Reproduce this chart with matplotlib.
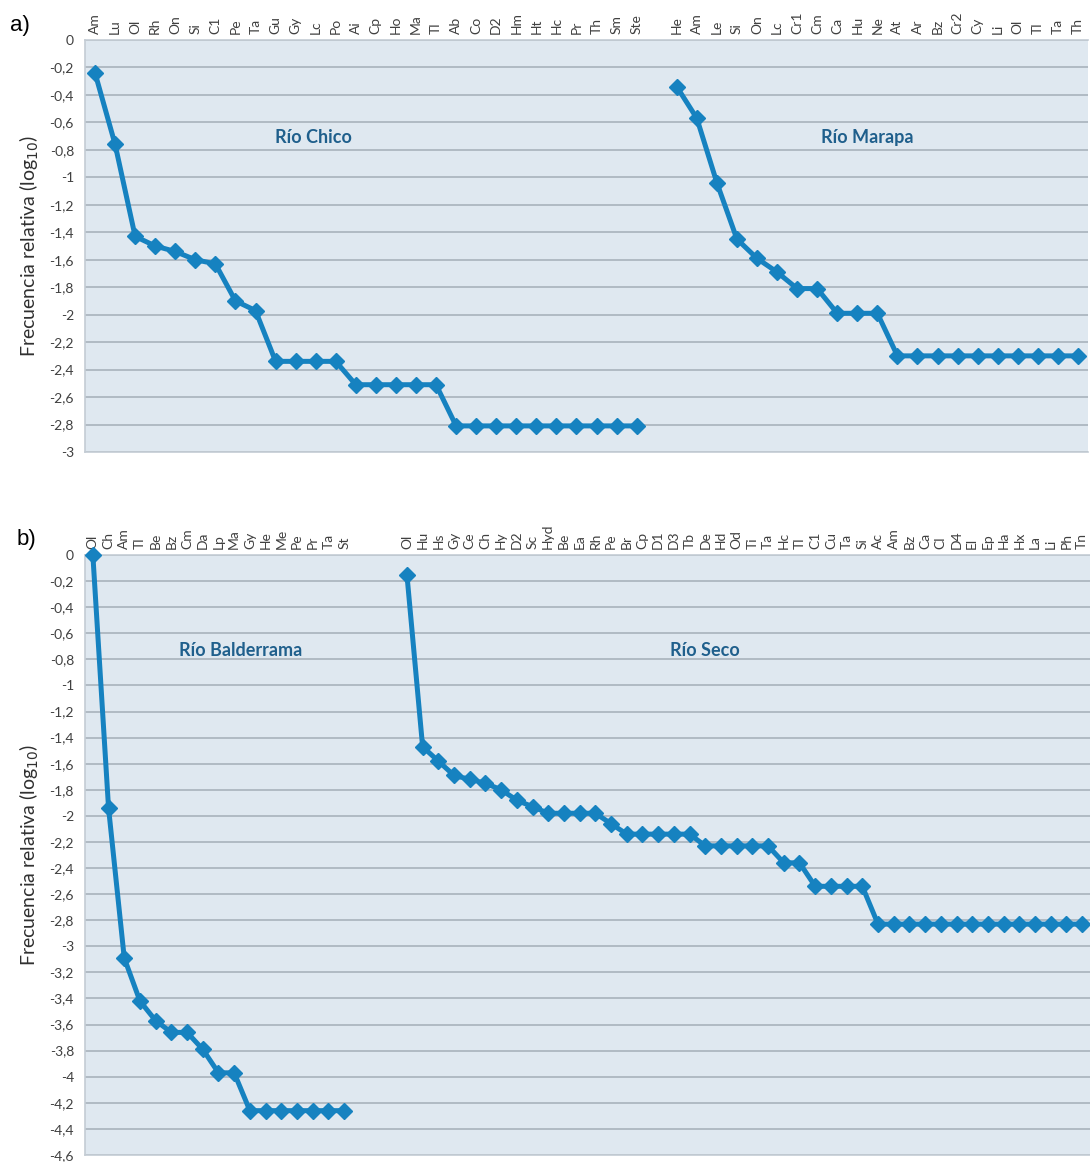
import numpy as np
import matplotlib
matplotlib.use("Agg")
import matplotlib.pyplot as plt
from matplotlib.ticker import FuncFormatter, MultipleLocator

plt.rcParams['font.family'] = ['Lato', 'DejaVu Sans']

# ---- data: log10 relative frequency per taxon, ranked ----
chico_labels = ["Am", "Lu", "Ol", "Rh", "On", "Si", "C1", "Pe", "Ta", "Gu", "Gy", "Lc", "Po",
                "Ai", "Cp", "Ho", "Ma", "Tl", "Ab", "Co", "D2", "Hm", "Ht", "Hc", "Pr", "Th",
                "Sm", "Ste"]
chico_values = [-0.24, -0.76, -1.43, -1.50, -1.54, -1.60, -1.63, -1.90, -1.97, -2.34, -2.34,
                -2.34, -2.34, -2.51, -2.51, -2.51, -2.51, -2.51, -2.81, -2.81, -2.81, -2.81,
                -2.81, -2.81, -2.81, -2.81, -2.81, -2.81]

marapa_labels = ["He", "Am", "Le", "Si", "On", "Lc", "Cr1", "Cm", "Ca", "Hu", "Ne", "At", "Ar",
                 "Bz", "Cr2", "Cy", "Li", "Ol", "Tl", "Ta", "Th"]
marapa_values = [-0.34, -0.57, -1.04, -1.45, -1.59, -1.69, -1.81, -1.81, -1.99, -1.99, -1.99,
                 -2.30, -2.30, -2.30, -2.30, -2.30, -2.30, -2.30, -2.30, -2.30, -2.30]

balderrama_labels = ["Ol", "Ch", "Am", "Tl", "Be", "Bz", "Cm", "Da", "Lp", "Ma", "Gy", "He",
                     "Me", "Pe", "Pr", "Ta", "St"]
balderrama_values = [0.0, -1.94, -3.09, -3.42, -3.57, -3.66, -3.66, -3.79, -3.97, -3.97, -4.26,
                     -4.26, -4.26, -4.26, -4.26, -4.26, -4.26]

seco_labels = ["Ol", "Hu", "Hs", "Gy", "Ce", "Ch", "Hy", "D2", "Sc", "Hyd", "Be", "Ea", "Rh",
               "Pe", "Br", "Cp", "D1", "D3", "Tb", "De", "Hd", "Od", "Ti", "Ta", "Hc", "Tl",
               "C1", "Cu", "Ta", "Si", "Ac", "Am", "Bz", "Ca", "Cl", "D4", "El", "Ep", "Ha",
               "Hx", "La", "Li", "Ph", "Tn"]
seco_values = [-0.15, -1.47, -1.58, -1.69, -1.72, -1.75, -1.80, -1.88, -1.93, -1.98, -1.98,
               -1.98, -1.98, -2.06, -2.14, -2.14, -2.14, -2.14, -2.14, -2.23, -2.23, -2.23,
               -2.23, -2.23, -2.36, -2.36, -2.54, -2.54, -2.54, -2.54, -2.83, -2.83, -2.83,
               -2.83, -2.83, -2.83, -2.83, -2.83, -2.83, -2.83, -2.83, -2.83, -2.83, -2.83]

LINE = "#1682c0"
TITLE = "#1f5f8c"
BG = "#dfe8f0"
GRID = "#a8b2bc"
TXT = "#404040"

W, H = 1090, 1162
fig = plt.figure(figsize=(W / 100, H / 100), dpi=100)
fig.patch.set_facecolor("white")


def px_axes(left, top, right, bottom):
    return fig.add_axes([left / W, 1 - bottom / H, (right - left) / W, (bottom - top) / H])


def comma(v, _):
    s = f"{v:.1f}".rstrip("0").rstrip(".")
    if s in ("-0", "0"):
        return "0"
    return s.replace(".", ",")


def panel(ax, groups, gap, ymin, notes):
    labels = []
    start = 0
    for i, (lab, vals) in enumerate(groups):
        x = np.arange(start, start + len(vals))
        ax.plot(x, vals, color=LINE, lw=3.6, marker="D", ms=8.5,
                mec=LINE, mfc=LINE, solid_joinstyle="round", zorder=3, clip_on=False)
        labels += lab
        start += len(vals)
        if i < len(groups) - 1:
            labels += [""] * gap
            start += gap
    n = len(labels)
    ax.set_facecolor(BG)
    ax.set_xlim(-0.5, n - 0.5)
    ax.set_ylim(ymin, 0)
    ax.set_xticks(np.arange(n))
    ax.set_xticklabels(labels, rotation=90, fontsize=10, color=TXT)
    ax.xaxis.tick_top()
    ax.tick_params(axis="x", length=0, pad=4)
    ax.yaxis.set_major_locator(MultipleLocator(0.2))
    ax.yaxis.set_major_formatter(FuncFormatter(comma))
    ax.tick_params(axis="y", length=0, labelsize=10, labelcolor=TXT, pad=8)
    ax.grid(axis="y", color=GRID, lw=1.2)
    ax.set_axisbelow(True)
    ax.spines["right"].set_visible(False)
    for side in ("left", "top", "bottom"):
        ax.spines[side].set_color("#c4ccd4")
        ax.spines[side].set_linewidth(1.2)
    ax.set_ylabel("Frecuencia relativa (log$_{10}$)", fontsize=14, color="#303030", labelpad=6)
    for x, y, t in notes:
        ax.text(x, y, t, color=TITLE, fontsize=13, fontweight="bold", ha="center", va="center")


ax_a = px_axes(85, 40, 1088, 452)
panel(ax_a, [(chico_labels, chico_values), (marapa_labels, marapa_values)], 1, -3.0,
      [(10.9, -0.71, "Río Chico"), (38.5, -0.71, "Río Marapa")])

ax_b = px_axes(85, 555, 1090, 1155)
panel(ax_b, [(balderrama_labels, balderrama_values), (seco_labels, seco_values)], 3, -4.6,
      [(9.4, -0.73, "Río Balderrama"), (39.0, -0.73, "Río Seco")])

fig.text(10 / W, 1 - 25 / H, "a)", fontsize=16, va="center", ha="left", family="Liberation Sans")
fig.text(17 / W, 1 - 540 / H, "b)", fontsize=16, va="center", ha="left", family="Liberation Sans")

fig.savefig("out.png", dpi=100, facecolor="white")
